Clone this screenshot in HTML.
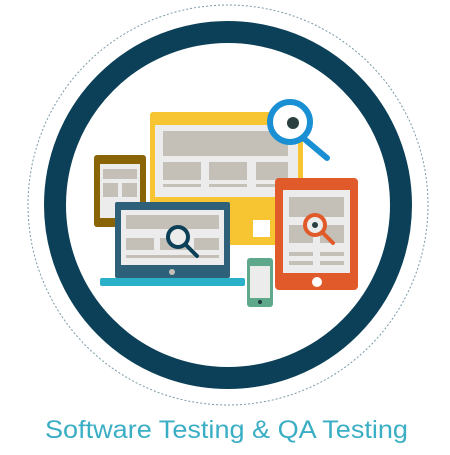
<!DOCTYPE html>
<html><head><meta charset="utf-8"><style>html,body{margin:0;padding:0;background:#fff}</style></head>
<body>
<svg width="450" height="450" viewBox="0 0 450 450" xmlns="http://www.w3.org/2000/svg">
<circle cx="228" cy="205" r="200" fill="none" stroke="#7a9aa8" stroke-width="1" stroke-dasharray="2,2"/>
<circle cx="228" cy="205" r="173" fill="none" stroke="#0c4058" stroke-width="22"/>
<!-- yellow monitor -->
<rect x="150" y="112" width="153" height="133" rx="3" fill="#f6c531"/>
<rect x="155" y="125" width="143" height="72" fill="#ececec"/>
<rect x="163" y="131" width="125" height="25" fill="#c4c0b8"/>
<rect x="163" y="162" width="38" height="18" fill="#c4c0b8"/><rect x="209" y="162" width="38" height="18" fill="#c4c0b8"/><rect x="256" y="162" width="32" height="18" fill="#c4c0b8"/>
<rect x="163" y="184" width="38" height="3" fill="#c4c0b8"/><rect x="209" y="184" width="38" height="3" fill="#c4c0b8"/><rect x="256" y="184" width="32" height="3" fill="#c4c0b8"/>
<rect x="253" y="220" width="17" height="17" fill="#fff"/>
<!-- blue magnifier -->
<line x1="302" y1="137" x2="327" y2="158" stroke="#1a8fd3" stroke-width="6" stroke-linecap="round"/>
<circle cx="290" cy="122" r="20" fill="#fff" stroke="#1a8fd3" stroke-width="6"/>
<circle cx="293" cy="123" r="6" fill="#2a3f3f"/>
<!-- brown tablet -->
<rect x="94" y="155" width="52" height="72" rx="3" fill="#8a6508"/>
<rect x="100" y="164" width="40" height="54" fill="#ececec"/>
<rect x="103" y="169" width="34" height="10" fill="#c4c0b8"/>
<rect x="103" y="183" width="15" height="14" fill="#c4c0b8"/><rect x="122" y="183" width="15" height="14" fill="#c4c0b8"/>
<!-- laptop -->
<rect x="115" y="202" width="115" height="76" rx="2" fill="#2f6079"/>
<rect x="121" y="210" width="103" height="55" fill="#ececec"/>
<rect x="126" y="215" width="93" height="14" fill="#c4c0b8"/>
<rect x="126" y="238" width="28" height="12" fill="#c4c0b8"/><rect x="160" y="238" width="28" height="12" fill="#c4c0b8"/><rect x="194" y="238" width="25" height="12" fill="#c4c0b8"/>
<rect x="126" y="255" width="93" height="3" fill="#c4c0b8"/>
<line x1="186" y1="245" x2="197" y2="256" stroke="#0c4058" stroke-width="4" stroke-linecap="round"/>
<circle cx="178" cy="237" r="10" fill="#ececec" stroke="#0c4058" stroke-width="4"/>
<circle cx="172" cy="272" r="3" fill="#c4c0b8"/>
<rect x="100" y="278" width="145" height="8" rx="2" fill="#2bb0c9"/>
<!-- phone -->
<rect x="247" y="258" width="26" height="49" rx="3" fill="#5ea88b"/>
<rect x="250" y="266" width="20" height="32" fill="#ececec"/>
<circle cx="260" cy="302" r="2" fill="#1f3b3b"/>
<!-- orange tablet -->
<rect x="275" y="178" width="83" height="112" rx="4" fill="#e05a2a"/>
<rect x="283" y="190" width="67" height="83" fill="#ececec"/>
<rect x="289" y="197" width="55" height="20" fill="#c4c0b8"/>
<rect x="289" y="225" width="24" height="18" fill="#c4c0b8"/><rect x="320" y="225" width="24" height="18" fill="#c4c0b8"/>
<rect x="289" y="252" width="24" height="4" fill="#c4c0b8"/><rect x="320" y="252" width="24" height="4" fill="#c4c0b8"/>
<rect x="289" y="261" width="24" height="4" fill="#c4c0b8"/><rect x="320" y="261" width="24" height="4" fill="#c4c0b8"/>
<line x1="323" y1="233" x2="333" y2="243" stroke="#e05a2a" stroke-width="4" stroke-linecap="round"/>
<circle cx="315" cy="225" r="10" fill="#ececec" stroke="#e05a2a" stroke-width="4"/>
<circle cx="315" cy="225" r="3" fill="#2a3f3f"/>
<circle cx="317" cy="282" r="5" fill="#fff"/>
<text x="45" y="438" font-family="Liberation Sans, sans-serif" font-size="25" fill="#3aaec4" textLength="363" lengthAdjust="spacingAndGlyphs">Software Testing  &amp; QA Testing</text>
</svg>
</body></html>
